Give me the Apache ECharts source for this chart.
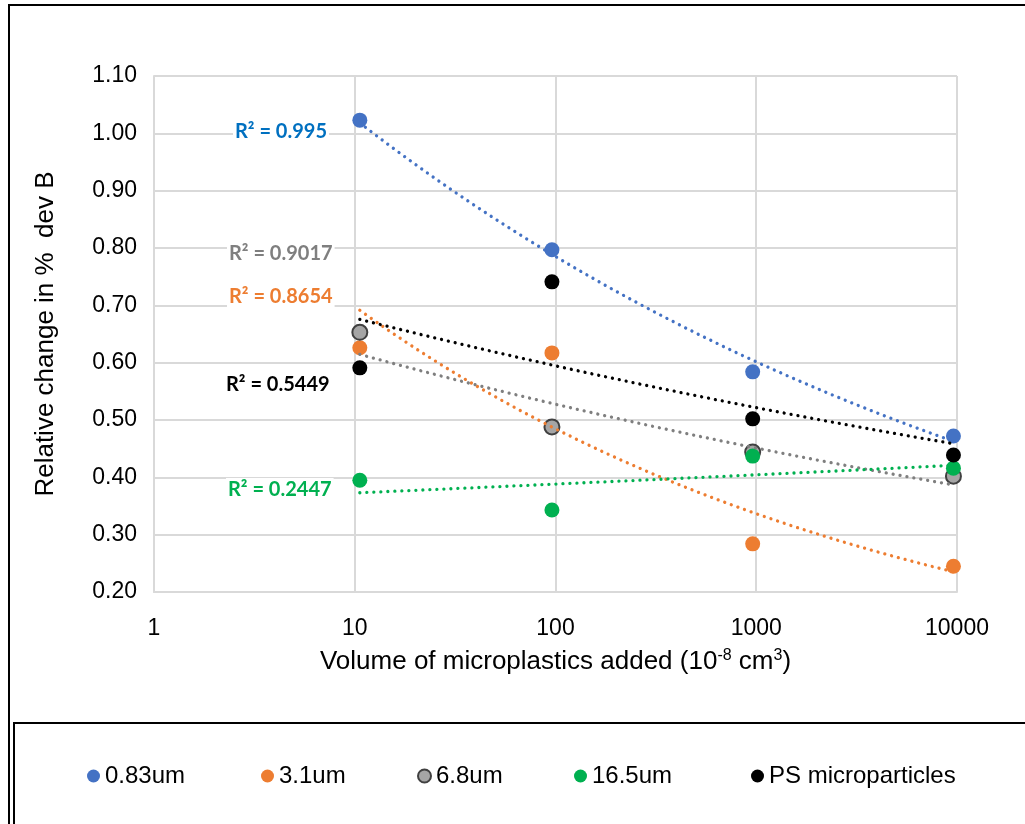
<!DOCTYPE html>
<html style="height: 100%">
<head>
<meta charset="utf-8">
<script src="https://cdn.jsdelivr.net/npm/echarts@6/dist/echarts.min.js"></script>
</head>
<body style="height: 100%; margin: 0; background: #fff;">
<div id="container" style="width: 1025px; height: 824px;"></div>
<script type="text/javascript">
// volumes added (10^-8 cm3) for each series
var volumes = [10.6, 96, 960, 9600];
var seriesNames = ['0.83um', '3.1um', '6.8um', '16.5um', 'PS microparticles'];
var s083 = [1.023, 0.797, 0.584, 0.472];
var s31 = [0.626, 0.617, 0.284, 0.245];
var s68 = [0.653, 0.488, 0.444, 0.402];
var s165 = [0.395, 0.343, 0.437, 0.416];
var sPS = [0.591, 0.741, 0.502, 0.439];
var r2Labels = ['R² = 0.995', 'R² = 0.8654', 'R² = 0.9017', 'R² = 0.2447', 'R² = 0.5449'];
var yTicks = [0.2, 1.1, 0.1]; // min, max, step

var allValues = [s083, s31, s68, s165, sPS];
var markerColors = ['#4472C4', '#ED7D31', '#A5A5A5', '#00B050', '#000000'];
var trendColors = ['#4472C4', '#ED7D31', '#7F7F7F', '#00B050', '#000000'];
var labelColors = ['#0070C0', '#ED7D31', '#7F7F7F', '#00B050', '#000000'];
// where the R² text sits (pixels)
var labelPos = [[233, 132], [227, 297], [227, 254], [226, 490], [224, 385]];

// power trendline, y = a * x^b, least squares on logs (like Excel)
function powerFit(xs, ys) {
    var n = xs.length, sx = 0, sy = 0, sxx = 0, sxy = 0;
    for (var i = 0; i < n; i++) {
        var lx = Math.log(xs[i]), ly = Math.log(ys[i]);
        sx += lx; sy += ly; sxx += lx * lx; sxy += lx * ly;
    }
    var b = (n * sxy - sx * sy) / (n * sxx - sx * sx);
    var a = Math.exp((sy - b * sx) / n);
    var pts = [];
    var l0 = Math.log10(xs[0]), l1 = Math.log10(xs[n - 1]);
    for (var k = 0; k <= 80; k++) {
        var x = Math.pow(10, l0 + (l1 - l0) * k / 80);
        pts.push([x, a * Math.pow(x, b)]);
    }
    return pts;
}

var series = [];
allValues.forEach(function (vals, i) {
    series.push({
        name: seriesNames[i],
        type: 'scatter',
        symbolSize: 15,
        z: 2,
        itemStyle: i === 2
            ? { color: markerColors[i], borderColor: '#404040', borderWidth: 2, opacity: 1 }
            : { color: markerColors[i], opacity: 1 },
        data: volumes.map(function (v, j) { return [v, vals[j]]; })
    });
});
allValues.forEach(function (vals, i) {
    series.push({
        name: seriesNames[i] + ' trend',
        type: 'line',
        showSymbol: false,
        silent: true,
        z: 3,
        lineStyle: { color: trendColors[i], width: 3.3, type: [0.01, 7], cap: 'round' },
        data: powerFit(volumes, vals)
    });
});

var graphics = [
    { type: 'rect', shape: { x: 9, y: 5, width: 1100, height: 900 }, style: { fill: 'none', stroke: '#000', lineWidth: 2 }, silent: true },
    { type: 'rect', shape: { x: 14, y: 723, width: 1100, height: 200 }, style: { fill: 'none', stroke: '#000', lineWidth: 2 }, silent: true }
];
r2Labels.forEach(function (t, i) {
    graphics.push({
        type: 'text', x: labelPos[i][0], y: labelPos[i][1], z: 10,
        style: {
            text: t, fill: labelColors[i], font: 'bold 20px Lato', textVerticalAlign: 'middle',
            backgroundColor: '#fff', padding: [2, 2]
        }
    });
});

var legendCenters = [88, 262, 418, 575, 752];
var legends = seriesNames.map(function (nm, i) {
    return {
        data: [nm], left: legendCenters[i] - 6, top: 759,
        icon: 'circle', itemWidth: 13, itemHeight: 13, itemGap: 0,
        textStyle: { fontFamily: 'Liberation Sans', fontSize: 24, color: '#000' }
    };
});

var dom = document.getElementById('container');
var myChart = echarts.init(dom);
var option = {
    animation: false,
    grid: { left: 154, right: 68, top: 76, bottom: 232 },
    legend: legends,
    graphic: graphics,
    xAxis: {
        type: 'log', logBase: 10, min: 1, max: 10000,
        name: 'Volume of microplastics added (10{sup|-8} cm{sup|3})',
        nameLocation: 'middle', nameGap: 56,
        nameTextStyle: {
            fontFamily: 'Liberation Sans', fontSize: 26, color: '#000',
            rich: { sup: { fontSize: 16, verticalAlign: 'top', padding: [0, 0, 12, 0], color: '#000', fontFamily: 'Liberation Sans' } }
        },
        axisLine: { lineStyle: { color: '#D9D9D9', width: 2 } },
        axisTick: { show: false },
        axisLabel: {
            fontFamily: 'Liberation Sans', fontSize: 23, color: '#000', margin: 25,
            formatter: function (v) { return String(Math.round(v)); }
        },
        splitLine: { show: true, lineStyle: { color: '#D9D9D9', width: 2 } }
    },
    yAxis: {
        type: 'value', min: yTicks[0], max: yTicks[1], interval: yTicks[2],
        name: 'Relative change in %  dev B',
        nameLocation: 'middle', nameGap: 95,
        nameTextStyle: { fontFamily: 'Liberation Sans', fontSize: 26, color: '#000' },
        axisLine: { show: true, lineStyle: { color: '#D9D9D9', width: 2 } },
        axisTick: { show: false },
        axisLabel: {
            fontFamily: 'Liberation Sans', fontSize: 23, color: '#000', margin: 17,
            formatter: function (v) { return v.toFixed(2); }
        },
        splitLine: { lineStyle: { color: '#D9D9D9', width: 2 } }
    },
    series: series
};
myChart.setOption(option);
</script>
</body>
</html>
